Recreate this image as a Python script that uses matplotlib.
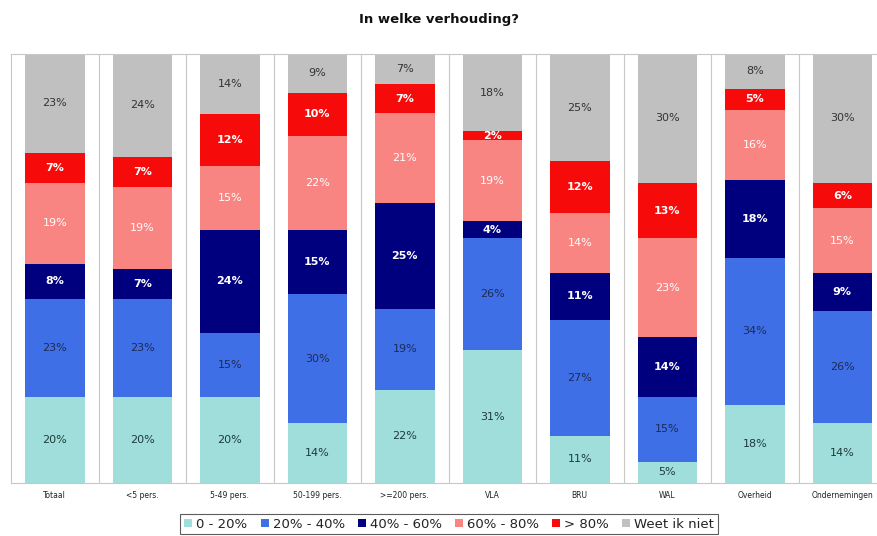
import matplotlib
matplotlib.use("Agg")
import matplotlib.pyplot as plt
import numpy as np

categories = ["Totaal", "<5 pers.", "5-49 pers.", "50-199 pers.", ">=200 pers.",
              "VLA", "BRU", "WAL", "Overheid", "Ondernemingen"]
series_names = ["0 - 20%", "20% - 40%", "40% - 60%", "60% - 80%", "> 80%", "Weet ik niet"]
v_0_20 = [20, 20, 20, 14, 22, 31, 11, 5, 18, 14]
v_20_40 = [23, 23, 15, 30, 19, 26, 27, 15, 34, 26]
v_40_60 = [8, 7, 24, 15, 25, 4, 11, 14, 18, 9]
v_60_80 = [19, 19, 15, 22, 21, 19, 14, 23, 16, 15]
v_gt80 = [7, 7, 12, 10, 7, 2, 12, 13, 5, 6]
v_weet = [23, 24, 14, 9, 7, 18, 25, 30, 8, 30]
series = [v_0_20, v_20_40, v_40_60, v_60_80, v_gt80, v_weet]

colors = ["#9fdedb", "#3f6fe6", "#00007f", "#f98583", "#f70a0a", "#c0c0c0"]
text_colors = ["#1f3b3b", "#1d2b55", "white", "white", "white", "#333333"]
bold = [False, False, True, False, True, False]

# 100% stacked: normalize each column to its total
totals = np.sum(np.array(series, dtype=float), axis=0)

fig = plt.figure(figsize=(8.78, 5.36), dpi=100)
ax = fig.add_axes([11/878, 53/536, 875/878, 429/536])
x = np.arange(len(categories))
bottom = np.zeros(len(categories))
for vals, name, c, tc, b in zip(series, series_names, colors, text_colors, bold):
    raw = np.array(vals, dtype=float)
    h = raw / totals * 100
    ax.bar(x, h, 0.68, bottom=bottom, color=c, label=name, zorder=2)
    for xi, v, hh, bt in zip(x, raw, h, bottom):
        ax.text(xi, bt + hh / 2, f"{int(v)}%", ha="center", va="center",
                fontsize=8, color=tc, fontweight="bold" if b else "normal", zorder=3)
    bottom += h

ax.set_xlim(-0.5, len(categories) - 0.5)
ax.set_ylim(0, 100)
ax.set_yticks([])
ax.set_xticks(x)
ax.set_xticklabels(categories, fontsize=5.5, color="#222222")
ax.tick_params(axis="x", length=0, pad=6)
for b in np.arange(0.5, len(categories) - 0.5, 1.0):
    ax.axvline(b, color="#c8c8c8", lw=0.8, zorder=1)
for s in ["left", "top", "bottom"]:
    ax.spines[s].set_color("#c8c8c8")
    ax.spines[s].set_linewidth(0.8)
ax.spines["right"].set_visible(False)

fig.text(0.5, 1 - 19/536, "In welke verhouding?", ha="center", va="center",
         fontsize=9.5, fontweight="bold", color="#111111")

leg = fig.legend(loc="center", bbox_to_anchor=(449/878, 1 - 524/536), ncol=6,
                 fontsize=9.5, frameon=True, fancybox=False, edgecolor="#333333",
                 handlelength=0.6, handleheight=0.6, handletextpad=0.3,
                 columnspacing=1.0, borderpad=0.3)
leg.get_frame().set_linewidth(0.8)
for t in leg.get_texts():
    t.set_color("#222222")

fig.savefig("out.png", dpi=100)
